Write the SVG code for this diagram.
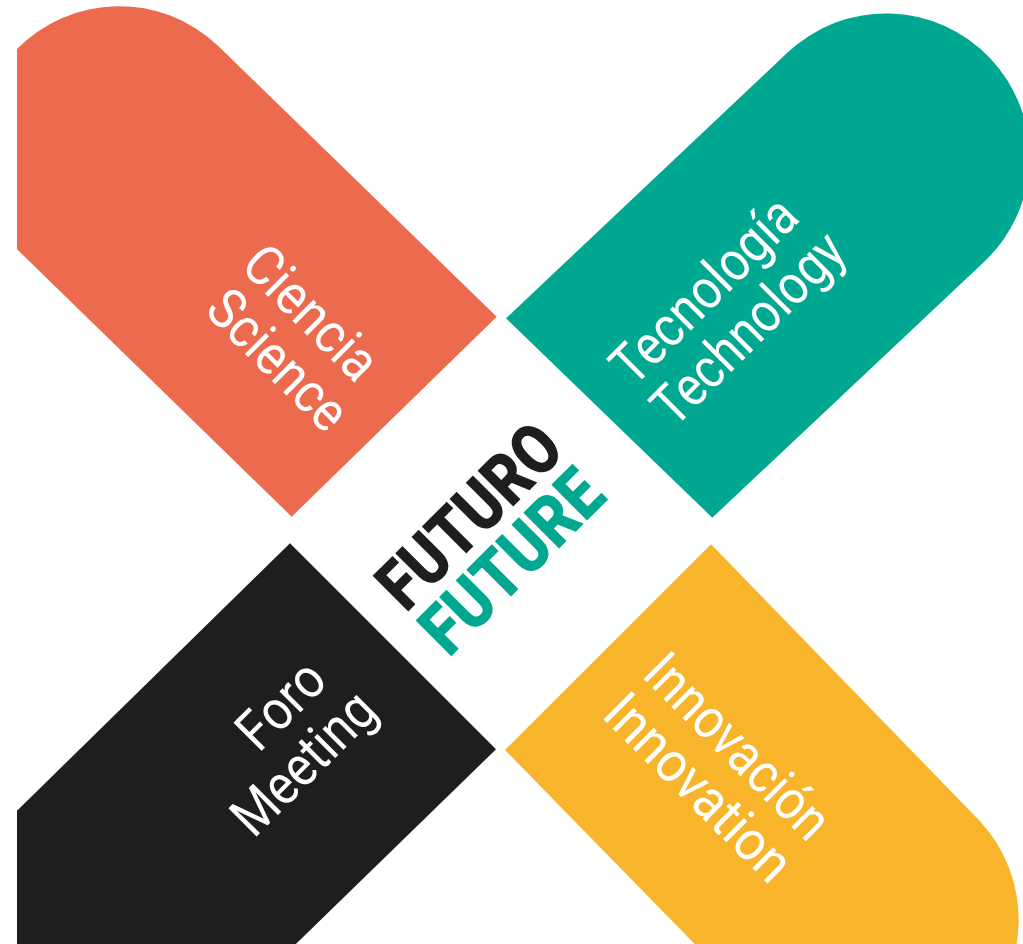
<svg xmlns="http://www.w3.org/2000/svg" width="1023" height="944" viewBox="0 0 1023 944">
  <defs>
    <clipPath id="frame">
      <rect x="17" y="0" width="1006" height="944"/>
    </clipPath>
  </defs>
  <style>
    .label { font-family: Roboto, "Liberation Sans", "DejaVu Sans", sans-serif; font-size: 56px; fill: #ffffff; font-weight: 400; }
    .title { font-family: Roboto, "Liberation Sans", "DejaVu Sans", sans-serif; font-size: 71px; font-weight: 900; }
    .orange { fill: #EC6B4E; }
    .teal { fill: #00A791; }
    .yellow { fill: #F8B42A; }
    .black { fill: #1E1E1C; }
  </style>
  <rect width="1023" height="944" fill="#ffffff"/>
  <g clip-path="url(#frame)">
    <g id="ciencia">
      <path class="orange" d="M496.7,316.7 L291.7,516.7 L18.3,250.5 A143,143 0 0 1 217.7,45.5 Z"/>
      <text class="label" text-anchor="end" transform="translate(366.3,394.6) rotate(45)">
        <tspan x="0" y="0" textLength="166" lengthAdjust="spacingAndGlyphs">Ciencia</tspan>
        <tspan x="0" y="57" textLength="174" lengthAdjust="spacingAndGlyphs">Science</tspan>
      </text>
    </g>
    <g id="tecnologia">
      <path class="teal" d="M506,318.3 L787.5,52.6 A143.5,143.5 0 0 1 984.5,261.4 L712.3,517.7 Z"/>
      <text class="label" transform="translate(633.3,387.9) rotate(-45)">
        <tspan x="0" y="0" textLength="238" lengthAdjust="spacingAndGlyphs">Tecnología</tspan>
        <tspan x="0" y="58" textLength="247" lengthAdjust="spacingAndGlyphs">Technology</tspan>
      </text>
    </g>
    <g id="foro">
      <path class="black" d="M290,543.3 L496,749.3 L218.8,1019 A145,145 0 0 1 16.2,811.5 Z"/>
      <text class="label" text-anchor="end" transform="translate(339.4,673.2) rotate(-45)">
        <tspan x="0" y="0" textLength="100" lengthAdjust="spacingAndGlyphs">Foro</tspan>
        <tspan x="0" y="57" textLength="178" lengthAdjust="spacingAndGlyphs">Meeting</tspan>
      </text>
    </g>
    <g id="innovacion">
      <path class="yellow" d="M505,750 L711,544.3 L980.5,821.7 A145,145 0 0 1 772.9,1024 Z"/>
      <text class="label" transform="translate(640.6,676) rotate(45)">
        <tspan x="0" y="0" textLength="237" lengthAdjust="spacingAndGlyphs">Innovación</tspan>
        <tspan x="0" y="57" textLength="240" lengthAdjust="spacingAndGlyphs">Innovation</tspan>
      </text>
    </g>
    <g id="futuro">
      <text class="title black" transform="translate(405.9,613.8) rotate(-45)" x="0" y="0" textLength="228" lengthAdjust="spacingAndGlyphs">FUTURO</text>
      <text class="title teal" transform="translate(449.1,658.4) rotate(-45)" x="0" y="0" textLength="226" lengthAdjust="spacingAndGlyphs">FUTURE</text>
    </g>
  </g>
</svg>
